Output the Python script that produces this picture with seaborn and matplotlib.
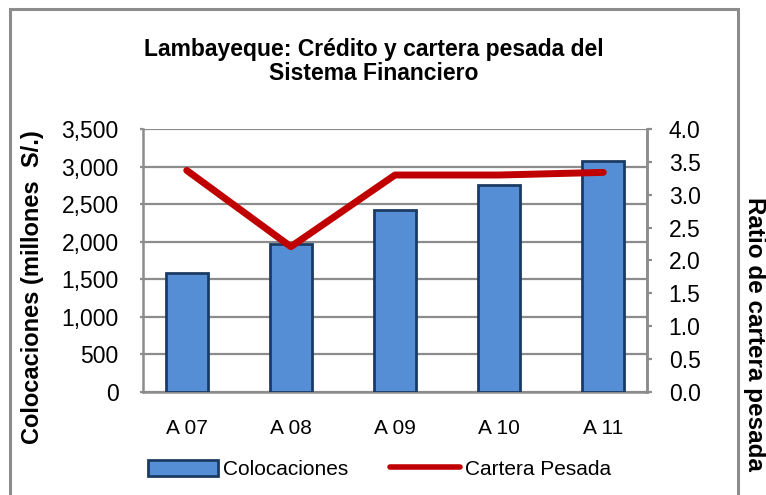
import numpy as np
import pandas as pd
import matplotlib.pyplot as plt
import seaborn as sns
from matplotlib.patches import Rectangle, Patch
from matplotlib.lines import Line2D
from matplotlib.ticker import FuncFormatter, MultipleLocator

# datos
years = ['A 07', 'A 08', 'A 09', 'A 10', 'A 11']
colocaciones = [1590, 1970, 2420, 2755, 3080]
cartera_pesada = [3.37, 2.21, 3.30, 3.30, 3.34]

df = pd.DataFrame({'Year': years, 'Colocaciones': colocaciones, 'Cartera': cartera_pesada})

sns.set_style('white')
plt.rcParams['font.family'] = ['Liberation Sans', 'DejaVu Sans']
plt.rcParams['text.color'] = 'black'
plt.rcParams['xtick.color'] = 'black'
plt.rcParams['ytick.color'] = 'black'
plt.rcParams['axes.labelcolor'] = 'black'

gris = '#8c8c8c'
fig = plt.figure(figsize=(7.66, 4.95), dpi=100)
ax = fig.add_axes([0.1867, 0.2081, 0.6579, 0.5313])

sns.barplot(data=df, x='Year', y='Colocaciones', ax=ax, width=0.4,
            color='#558ED5', edgecolor='#1C3B63', linewidth=2, saturation=1, zorder=3)
ax.set_ylim(0, 3500)
ax.yaxis.set_major_locator(MultipleLocator(500))
ax.yaxis.set_major_formatter(FuncFormatter(lambda v, p: f'{v:,.0f}'))
ax.grid(True, axis='y', color=gris, linewidth=1.6, zorder=0)
ax.set_axisbelow(True)
for s in ['left', 'bottom', 'right']:
    ax.spines[s].set_color(gris)
    ax.spines[s].set_linewidth(1.8)
ax.spines['top'].set_visible(False)
ax.tick_params(axis='y', which='both', left=True, length=2.5, width=1.6, color=gris,
               labelcolor='black', labelsize=16.5, pad=15)
ax.tick_params(axis='x', bottom=False, labelsize=15, pad=16)
ax.set_xlabel('')
ax.set_ylabel('Colocaciones (millones  S/.)', fontsize=17, fontweight='bold')
ax.yaxis.set_label_coords(-0.196, 0.40)

ax2 = ax.twinx()
sns.lineplot(x=np.arange(len(years)), y=df['Cartera'], ax=ax2, color='#C00000',
             linewidth=5, solid_capstyle='round', zorder=4)
ax2.set_ylim(0, 4.0)
ax2.yaxis.set_major_locator(MultipleLocator(0.5))
ax2.yaxis.set_major_formatter(FuncFormatter(lambda v, p: f'{v:.1f}'))
for s in ['left', 'top', 'bottom']:
    ax2.spines[s].set_visible(False)
ax2.spines['right'].set_color(gris)
ax2.spines['right'].set_linewidth(1.8)
ax2.tick_params(axis='y', right=True, length=3.6, width=1.6, color=gris,
                labelcolor='black', labelsize=16.5, pad=12)
ax2.set_ylabel('Ratio de cartera pesada', fontsize=17.5, fontweight='bold', rotation=270,
               va='center')
ax2.yaxis.set_label_coords(1.214, 0.22)

fig.text(374 / 766, 0.876, 'Lambayeque: Crédito y cartera pesada del\nSistema Financiero',
         ha='center', va='center', fontsize=16.5, fontweight='bold', linespacing=1.05)

handles = [Patch(facecolor='#558ED5', edgecolor='#1C3B63', linewidth=2),
           Line2D([], [], color='#C00000', linewidth=4)]
fig.legend(handles, ['Colocaciones', 'Cartera Pesada'], loc='center',
           bbox_to_anchor=(0.495, 0.052), ncol=2, frameon=False, fontsize=15,
           handlelength=3.4, handleheight=0.8, handletextpad=0.2, columnspacing=2.0)

fig.patches.append(Rectangle((10 / 766, -0.02), 728 / 766, 1.02 - 9 / 495,
                             transform=fig.transFigure, fill=False,
                             edgecolor=gris, linewidth=2.2))

fig.savefig('out.png', dpi=100)
